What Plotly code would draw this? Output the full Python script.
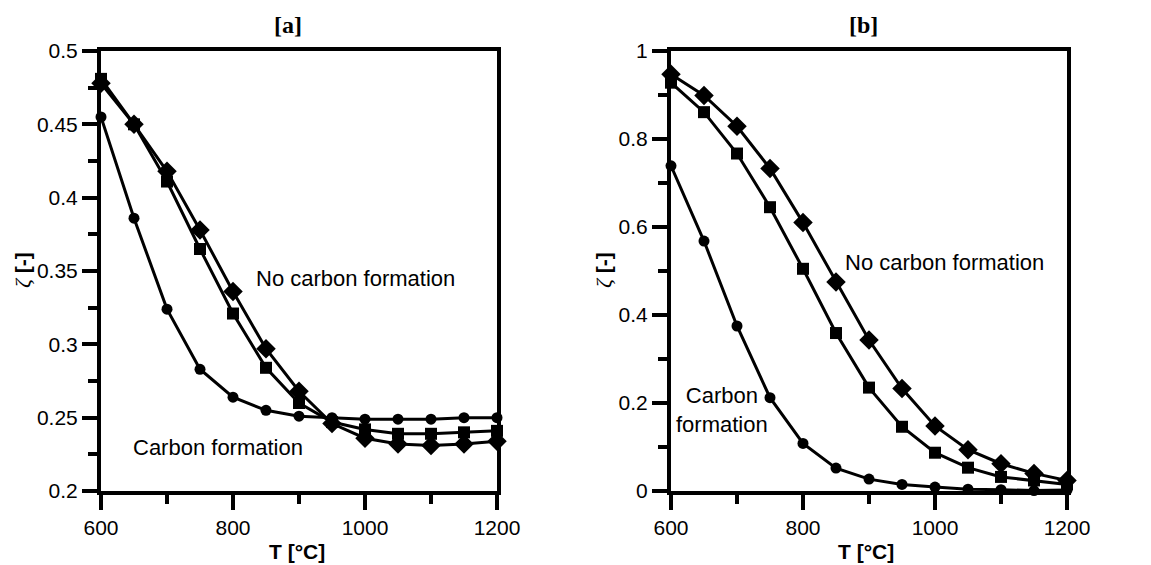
import plotly.graph_objects as go

# Temperature grid [°C]
temperature = [600, 650, 700, 750, 800, 850, 900, 950, 1000, 1050, 1100, 1150, 1200]

# Panel [a]
a_circle = [0.455, 0.386, 0.324, 0.283, 0.264, 0.255, 0.251, 0.250, 0.249, 0.249, 0.249, 0.250, 0.250]
a_square = [0.481, 0.450, 0.411, 0.365, 0.321, 0.284, 0.260, 0.247, 0.242, 0.239, 0.239, 0.240, 0.241]
a_diamond = [0.478, 0.450, 0.418, 0.378, 0.336, 0.297, 0.268, 0.246, 0.236, 0.232, 0.231, 0.232, 0.234]

# Panel [b]
b_circle = [0.739, 0.568, 0.375, 0.212, 0.108, 0.052, 0.027, 0.015, 0.009, 0.004, 0.003, 0.001, 0.002]
b_square = [0.928, 0.861, 0.767, 0.645, 0.505, 0.359, 0.235, 0.146, 0.087, 0.053, 0.032, 0.024, 0.015]
b_diamond = [0.947, 0.899, 0.829, 0.733, 0.610, 0.475, 0.343, 0.233, 0.148, 0.094, 0.062, 0.040, 0.024]

W, H = 1151, 565
SANS = "Liberation Sans, Arial, sans-serif"
SERIF = "Liberation Serif, Times New Roman, serif"

fig = go.Figure()

def add_series(y, symbol, size, xa, ya):
    fig.add_trace(go.Scatter(
        x=temperature, y=y, mode="lines+markers",
        line=dict(color="black", width=3),
        marker=dict(symbol=symbol, size=size, color="black"),
        cliponaxis=False, showlegend=False, xaxis=xa, yaxis=ya,
    ))

add_series(a_circle, "circle", 11, "x", "y")
add_series(a_square, "square", 12, "x", "y")
add_series(a_diamond, "diamond", 15, "x", "y")
add_series(b_circle, "circle", 11, "x2", "y2")
add_series(b_square, "square", 12, "x2", "y2")
add_series(b_diamond, "diamond", 15, "x2", "y2")

def px_x(p):
    return p / W

def px_y(p):
    return 1 - p / H

y_dom = [px_y(491), px_y(51)]

common = dict(
    showline=True, linecolor="black", linewidth=4, mirror=True,
    ticks="outside", ticklen=15, tickwidth=3.5, tickcolor="black",
    showgrid=False, zeroline=False, automargin=False,
    tickfont=dict(family=SANS, size=21, color="black"),
)
minor_x = dict(dtick=100, ticklen=9, tickwidth=3.5, tickcolor="black", ticks="outside")

fig.update_layout(
    width=W, height=H,
    margin=dict(l=0, r=0, t=0, b=0),
    paper_bgcolor="white", plot_bgcolor="white",
    xaxis=dict(domain=[px_x(101), px_x(497)], range=[600, 1200], dtick=200, tick0=600,
               minor=minor_x, anchor="y", **common),
    yaxis=dict(domain=y_dom, range=[0.2, 0.5], dtick=0.05, tick0=0.2,
               minor=dict(dtick=0.025, ticklen=9, tickwidth=3.5, tickcolor="black", ticks="outside"),
               tickformat="~g", anchor="x", **common),
    xaxis2=dict(domain=[px_x(671), px_x(1067)], range=[600, 1200], dtick=200, tick0=600,
                minor=minor_x, anchor="y2", **common),
    yaxis2=dict(domain=y_dom, range=[0, 1], dtick=0.2, tick0=0,
                minor=dict(dtick=0.1, ticklen=9, tickwidth=3.5, tickcolor="black", ticks="outside"),
                tickformat="~g", anchor="x2", **common),
)

def text(x, y, s, size=22, family=SANS, angle=0, xanchor="center"):
    fig.add_annotation(x=px_x(x), y=px_y(y), xref="paper", yref="paper",
                       text=s, showarrow=False, textangle=angle,
                       xanchor=xanchor, yanchor="middle",
                       font=dict(family=family, size=size, color="black"))

# Panel titles
text(288, 25, "<b>[a]</b>", size=24, family=SERIF)
text(863, 25, "<b>[b]</b>", size=24, family=SERIF)

# Axis titles
ylab = ('<span style="font-family:Liberation Serif;font-size:22px"><i>ζ</i></span> <b>[-]</b>')
text(22, 270, ylab, size=21, angle=-90)
text(603, 270, ylab, size=21, angle=-90)
text(297, 551, "<b>T [°C]</b>", size=21)
text(866, 551, "<b>T [°C]</b>", size=21)

# Region labels
text(254, 278, "No carbon formation", xanchor="left")
text(131, 447, "Carbon formation", xanchor="left")
text(843, 263, "No carbon formation", xanchor="left")
text(674, 410, "Carbon<br>formation", xanchor="left")

fig.write_html("out.html")
